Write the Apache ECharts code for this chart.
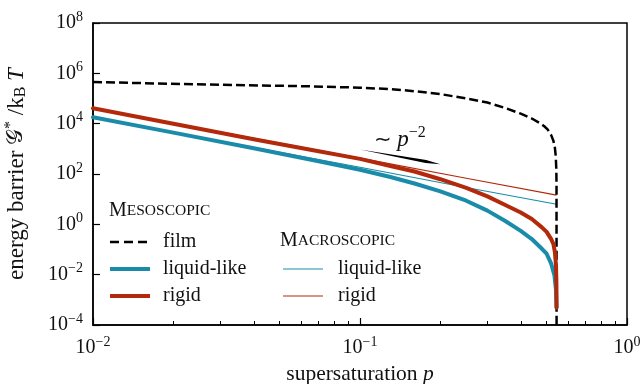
<!DOCTYPE html>
<html>
<head>
<meta charset="utf-8">
<script src="https://cdn.jsdelivr.net/npm/echarts@6/dist/echarts.min.js"></script>
<style>
  html, body { margin: 0; background: #fff; }
  #chart { width: 640px; height: 384px; }
</style>
</head>
<body>
<div id="chart"></div>
<script>
// supersaturation values and barrier heights
const P_FILM = [0.01, 0.03, 0.06, 0.1, 0.13, 0.15, 0.2, 0.25, 0.3, 0.35, 0.4, 0.44, 0.47, 0.49, 0.505, 0.52, 0.53, 0.537, 0.541, 0.5435, 0.5445, 0.5448]
const G_FILM = [4.5e5, 3.5e5, 3.1e5, 2.7e5, 2.35e5, 2.1e5, 1.5e5, 1.0e5, 6.9e4, 4.2e4, 2.5e4, 1.6e4, 1.07e4, 7.9e3, 5.8e3, 3.5e3, 2.1e3, 1.1e3, 500, 160, 40, 1e-4]

const P_MESO_LIQUID = [0.01, 0.02, 0.04, 0.07, 0.1, 0.13, 0.16, 0.2, 0.25, 0.3, 0.35, 0.4, 0.44, 0.48, 0.5, 0.52, 0.535, 0.542, 0.5445]
const G_MESO_LIQUID = [1.8e4, 4.4e3, 1.05e3, 320, 148, 76, 42, 20.4, 8.7, 3.5, 1.35, 0.55, 0.26, 0.107, 0.068, 0.0275, 0.0093, 0.0025, 5e-4]

const P_MESO_RIGID = [0.01, 0.02, 0.04, 0.07, 0.1, 0.13, 0.16, 0.2, 0.25, 0.3, 0.35, 0.4, 0.44, 0.48, 0.5, 0.52, 0.53, 0.537, 0.542, 0.544, 0.5447]
const G_MESO_RIGID = [4.1e4, 1.0e4, 2.4e3, 800, 400, 209, 126, 62, 28, 12.9, 5.9, 2.95, 1.62, 0.76, 0.5, 0.257, 0.166, 0.078, 0.024, 0.005, 5e-4]

const P_MACRO = [0.01, 0.1, 0.25, 0.5445]
const G_MACRO_LIQUID = [1.8e4, 185, 29, 6.3]
const G_MACRO_RIGID = [4.1e4, 430, 68, 14.5]

const SLOPE_P = [0.1, 0.2]
const SLOPE_G = [950, 245]

const X_MINOR = [0.02, 0.03, 0.04, 0.05, 0.06, 0.07, 0.08, 0.09, 0.2, 0.3, 0.4, 0.5, 0.6, 0.7, 0.8, 0.9]

const BLUE = '#1a8caa'
const RED = '#b3290c'
const FONT = 'Liberation Serif'
const INK = '#111'

const zip = (xs, ys) => xs.map((x, i) => [x, ys[i]])

function powLabel(value) {
  const e = Math.round(Math.log10(value))
  return '{b|10}{sup|' + String(e).replace('-', '\u2212') + '}'
}

const labelRich = {
  b: { fontFamily: FONT, fontSize: 20, color: INK },
  sup: { fontFamily: FONT, fontSize: 14, color: INK, padding: [0, 0, 12, 0] }
}

const chart = echarts.init(document.getElementById('chart'))

function wedge(params, api) {
  const a = api.coord([SLOPE_P[0], SLOPE_G[0]])
  const b = api.coord([SLOPE_P[1], SLOPE_G[1]])
  const dx = b[0] - a[0]
  const dy = b[1] - a[1]
  const len = Math.sqrt(dx * dx + dy * dy)
  const nx = -dy / len * 1.6
  const ny = dx / len * 1.6
  const m = [a[0] + dx * 0.82, a[1] + dy * 0.82]
  return {
    type: 'polygon',
    shape: { points: [a, [m[0] + nx, m[1] + ny], b, [m[0] - nx, m[1] - ny]] },
    style: { fill: '#000' }
  }
}

function legendLine(x, y, color, width, dash) {
  return {
    type: 'line',
    shape: { x1: x, y1: y, x2: x + 40, y2: y },
    style: { stroke: color, lineWidth: width, lineDash: dash || null }
  }
}

function legendText(x, y, text) {
  return {
    type: 'text',
    x: x,
    y: y,
    style: { text: text, fontFamily: FONT, fontSize: 20, fill: INK, verticalAlign: 'middle' }
  }
}

function smallCaps(x, y, first, rest) {
  return {
    type: 'text',
    x: x,
    y: y,
    style: {
      text: '{a|' + first + '}{b|' + rest + '}',
      verticalAlign: 'middle',
      rich: {
        a: { fontFamily: FONT, fontSize: 20, fill: INK },
        b: { fontFamily: FONT, fontSize: 15.5, fill: INK }
      }
    }
  }
}

chart.setOption({
  animation: false,
  grid: {
    left: 93, right: 13, top: 23, bottom: 59,
    outerBoundsMode: 'none',
    show: true, borderColor: '#000', borderWidth: 1.5
  },
  xAxis: [
    {
      type: 'log', logBase: 10, min: 0.01, max: 1,
      position: 'bottom',
      name: '{t|supersaturation }{i|p}',
      nameLocation: 'middle',
      nameGap: 36,
      nameTextStyle: {
        rich: {
          t: { fontFamily: FONT, fontSize: 21.5, color: INK },
          i: { fontFamily: FONT, fontSize: 21.5, color: INK, fontStyle: 'italic' }
        }
      },
      axisLine: { lineStyle: { color: '#000', width: 1.5 } },
      axisTick: { inside: true, length: 7, lineStyle: { color: '#000', width: 1.2 } },
      axisLabel: { formatter: powLabel, rich: labelRich, margin: 10 },
      splitLine: { show: false },
      minorTick: { show: false }
    },
    {
      type: 'log', logBase: 10, min: 0.01, max: 1,
      position: 'bottom',
      axisLine: { show: false },
      axisTick: { inside: true, length: 4, customValues: X_MINOR, lineStyle: { color: '#000', width: 1 } },
      axisLabel: { show: false },
      splitLine: { show: false }
    }
  ],
  yAxis: {
    type: 'log', logBase: 100, min: 1e-4, max: 1e8,
    name: '{t|energy barrier }{g|\uD835\uDCA2}{sup|*}{t| /k}{sub|B}{i| T}',
    nameLocation: 'middle',
    nameGap: 63,
    nameTextStyle: {
      rich: {
        t: { fontFamily: FONT, fontSize: 23, color: INK },
        g: { fontFamily: 'DejaVu Sans, ' + FONT, fontSize: 22, color: INK },
        i: { fontFamily: FONT, fontSize: 23, color: INK, fontStyle: 'italic' },
        sup: { fontFamily: FONT, fontSize: 16, color: INK, padding: [0, 0, 11, 0] },
        sub: { fontFamily: FONT, fontSize: 16, color: INK, padding: [9, 0, 0, 0] }
      }
    },
    axisLine: { lineStyle: { color: '#000', width: 1.5 } },
    axisTick: { inside: true, length: 7, lineStyle: { color: '#000', width: 1.2 } },
    axisLabel: { formatter: powLabel, rich: labelRich, margin: 10 },
    splitLine: { show: false }
  },
  series: [
    {
      name: 'macro liquid-like', type: 'line', symbol: 'none', z: 2,
      data: zip(P_MACRO, G_MACRO_LIQUID),
      lineStyle: { color: BLUE, width: 1.2 }
    },
    {
      name: 'macro rigid', type: 'line', symbol: 'none', z: 2,
      data: zip(P_MACRO, G_MACRO_RIGID),
      lineStyle: { color: RED, width: 1.2 }
    },
    {
      name: 'film', type: 'line', symbol: 'none', z: 3,
      data: zip(P_FILM, G_FILM),
      lineStyle: { color: '#000', width: 2.5, type: [9, 4] }
    },
    {
      name: 'liquid-like', type: 'line', symbol: 'none', z: 4,
      data: zip(P_MESO_LIQUID, G_MESO_LIQUID),
      lineStyle: { color: BLUE, width: 4, cap: 'round', join: 'round' }
    },
    {
      name: 'rigid', type: 'line', symbol: 'none', z: 5,
      data: zip(P_MESO_RIGID, G_MESO_RIGID),
      lineStyle: { color: RED, width: 4, cap: 'round', join: 'round' }
    },
    {
      name: 'slope', type: 'custom', z: 6,
      renderItem: wedge,
      data: [[SLOPE_P[0], SLOPE_G[0]]]
    }
  ],
  graphic: [
    {
      type: 'text', x: 374, y: 125,
      style: {
        text: '{t|\u223C }{i|p}{sup|\u22122}',
        rich: {
          t: { fontFamily: FONT, fontSize: 21, fill: INK },
          i: { fontFamily: FONT, fontSize: 23, fill: INK, fontStyle: 'italic' },
          sup: { fontFamily: FONT, fontSize: 16, fill: INK, padding: [0, 0, 14, 0] }
        }
      }
    },
    smallCaps(109, 211, 'M', 'ESOSCOPIC'),
    legendLine(110, 242, '#000', 2.5, [9, 5]),
    legendText(163, 242, 'film'),
    legendLine(110, 269, BLUE, 4),
    legendText(163, 269, 'liquid-like'),
    legendLine(110, 296, RED, 4),
    legendText(163, 296, 'rigid'),
    smallCaps(280, 241, 'M', 'ACROSCOPIC'),
    legendLine(283, 269, BLUE, 1.2),
    legendText(338, 269, 'liquid-like'),
    legendLine(283, 296, RED, 1.2),
    legendText(338, 296, 'rigid')
  ]
})
</script>
</body>
</html>
